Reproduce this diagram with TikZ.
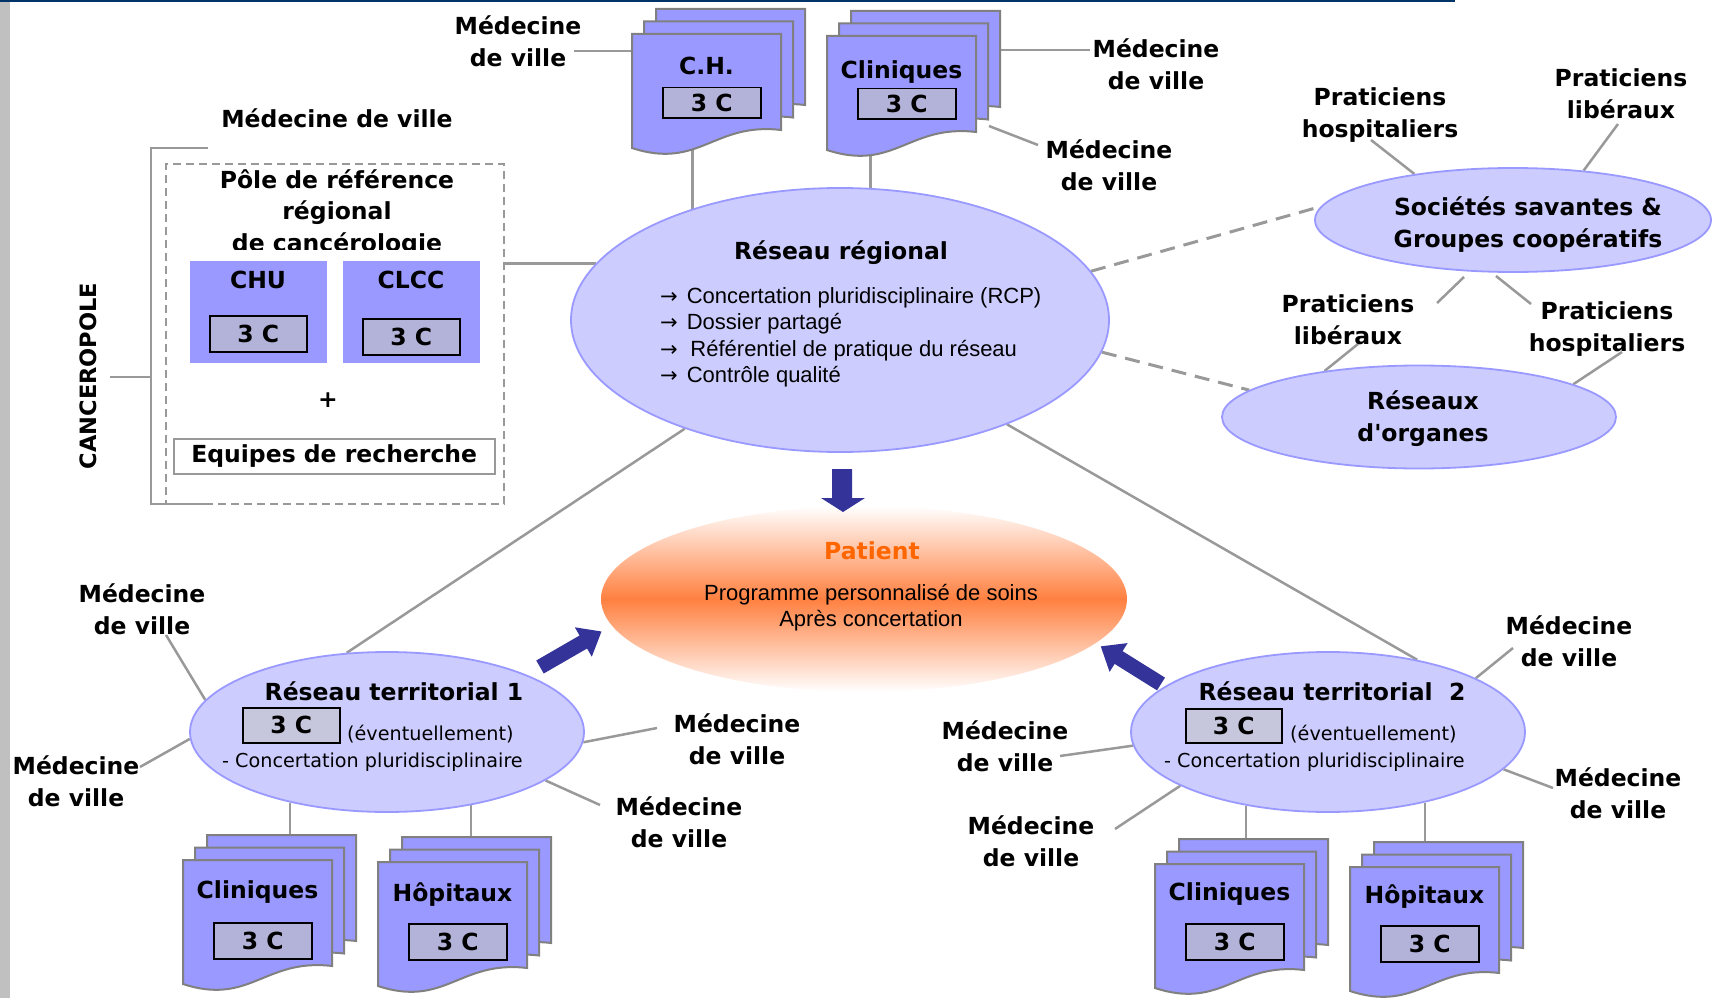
\documentclass[tikz,border=0pt]{standalone}
\usepackage{fontspec}
\setmainfont{DejaVu Sans}
\newfontfamily\arialf{Liberation Sans}
\newfontfamily\djv{DejaVu Sans}
\usetikzlibrary{backgrounds,shapes.geometric,calc}

\definecolor{ellfill}{HTML}{CCCCFF}
\definecolor{elldraw}{HTML}{9999FF}
\definecolor{docfill}{HTML}{9999FF}
\definecolor{docdraw}{HTML}{808080}
\definecolor{tcfill}{HTML}{B3B3D9}
\definecolor{tclight}{HTML}{C6C6DC}
\definecolor{connc}{HTML}{999999}
\definecolor{arrblue}{HTML}{333399}
\definecolor{porange}{HTML}{FF8040}
\definecolor{ptext}{HTML}{FF6600}
\definecolor{topblue}{HTML}{003366}
\definecolor{stripgray}{HTML}{C0C0C0}

\tikzset{
 lab/.style={font=\fontsize{23.5}{32}\selectfont\bfseries, align=center, inner sep=0pt},
 conn/.style={draw=connc, line width=2.5pt},
 dconn/.style={draw=connc, line width=3pt, dash pattern=on 15pt off 9pt},
 ell/.style={ellipse, fill=ellfill, draw=elldraw, line width=1.8pt, inner sep=0pt},
 tcbox/.style={draw=black, line width=1.5pt, fill=tcfill, inner sep=0pt, font=\fontsize{23.5}{28}\selectfont\bfseries},
 body/.style={font=\arialf\fontsize{22}{26.5}\selectfont, inner sep=0pt},
 smalltext/.style={font=\fontsize{19.2}{24}\selectfont, inner sep=0pt},
}

\newcommand\rarr{{\djv\fontsize{21}{26}\selectfont →}\hspace{9pt}}

\newcommand\docshape[4]{%
 \filldraw[fill=docfill, draw=docdraw, line width=2pt]
  (#1,#2) -- (#1+#3,#2) -- (#1+#3,#2+#4-18)
  .. controls (#1+0.55*#3,#2+#4-26) and (#1+0.45*#3,#2+#4+22) .. (#1,#2+#4) -- cycle;}

% name x y h title titledy boxdy boxh
\newcommand\docstack[8]{%
 \docshape{#2+24}{#3-25}{149}{#4}
 \docshape{#2+12}{#3-12.5}{149}{#4}
 \docshape{#2}{#3}{149}{#4}
 \node[lab, anchor=base] at (#2+74.5,#3+#6) {#5};
 \node[tcbox, minimum width=98pt, minimum height=#8pt, anchor=north west] at (#2+30,#3+#7) {3 C};
 \node[inner sep=0pt, minimum width=173pt, minimum height={#4+25}, anchor=south west] (#1) at (#2,#3+#4) {};
}

\begin{document}
\begin{tikzpicture}[x=1pt,y=-1pt]
\useasboundingbox (0,0) rectangle (1717,998);
\fill[topblue] (0,0) rectangle (1455,2.5);
\fill[stripgray] (0,2.5) rectangle (10,998);

% ---- Réseau régional
\node[ell, minimum width=538pt, minimum height=264pt] (R) at (840,320) {};
\node[lab, anchor=base] (Rt) at (841,259) {Réseau régional};
\node[body, anchor=base west] (Rb1) at (660,303) {\rarr Concertation pluridisciplinaire (RCP)};
\node[body, anchor=base west] (Rb2) at (660,329.5) {\rarr Dossier partagé};
\node[body, anchor=base west] (Rb3) at (660,356) {\rarr \,Référentiel de pratique du réseau};
\node[body, anchor=base west] (Rb4) at (660,382.5) {\rarr Contrôle qualité};

% ---- Patient
\node[ellipse, minimum width=526pt, minimum height=186pt, inner sep=0pt,
      top color=white, bottom color=white, middle color=porange] (pat) at (864,599) {};
\node[lab, text=ptext, anchor=base] (patt) at (872,559) {Patient};
\node[body, anchor=base] (pat1) at (871,600) {Programme personnalisé de soins};
\node[body, anchor=base] (pat2) at (871,626) {Après concertation};

% ---- Sociétés / organes
\node[ell, minimum width=396pt, minimum height=104pt] (soc) at (1513,220) {};
\node[lab] (soct) at (1528,224.5) {Sociétés savantes \&\\Groupes coopératifs};
\node[ell, minimum width=394pt, minimum height=103pt] (org) at (1419,417) {};
\node[lab] (orgt) at (1423,418.5) {Réseaux\\d\textquotesingle organes};

% ---- Territorial 1 and 2
\node[ell, minimum width=394pt, minimum height=160pt] (t1) at (387,732) {};
\node[lab, anchor=base] (t1t) at (394,700) {Réseau territorial 1};
\node[tcbox, fill=tclight, minimum width=97pt, minimum height=35pt, anchor=north west] (t1c) at (242,707) {3 C};
\node[smalltext, anchor=base west] (t1e) at (347,740) {(éventuellement)};
\node[smalltext, anchor=base west] (t1p) at (222,767) {- Concertation pluridisciplinaire};

\node[ell, minimum width=394pt, minimum height=160pt] (t2) at (1328,732) {};
\node[lab, anchor=base] (t2t) at (1332,700) {Réseau territorial\ \ 2};
\node[tcbox, fill=tclight, minimum width=96pt, minimum height=34pt, anchor=north west] (t2c) at (1185,708) {3 C};
\node[smalltext, anchor=base west] (t2e) at (1290,740) {(éventuellement)};
\node[smalltext, anchor=base west] (t2p) at (1164,767) {- Concertation pluridisciplinaire};

% ---- Document stacks
\docstack{ch}{632}{34}{114}{C.H.}{41}{53}{30}
\docstack{clt}{827}{36}{114}{Cliniques}{42}{52}{30}
\docstack{d1}{183}{860}{124}{Cliniques}{38}{62}{36}
\docstack{d2}{378}{862}{124}{Hôpitaux}{39}{61}{36}
\docstack{d3}{1155}{864}{124}{Cliniques}{36}{59}{36}
\docstack{d4}{1350}{867}{124}{Hôpitaux}{36}{58}{36}

% ---- Pôle de référence
\node[draw=connc, dash pattern=on 8pt off 5pt, line width=2pt, minimum width=338pt,
      minimum height=340pt, inner sep=0pt, anchor=north west] (pole) at (165,163) {};
\begin{scope}
 \clip (167,165) rectangle (501,249.5);
 \node[lab, anchor=base] (pt1) at (337,188) {Pôle de référence};
 \node[lab, anchor=base] (pt2) at (337,219) {régional};
 \node[lab, anchor=base] (pt3) at (337,251) {de cancérologie};
\end{scope}
\node[fill=docfill, minimum width=137pt, minimum height=102pt, inner sep=0pt, anchor=north west] (chu) at (190,261) {};
\node[lab, anchor=base] (chut) at (258,288) {CHU};
\node[tcbox, minimum width=97pt, minimum height=36pt, anchor=north west] (chu3) at (209,315) {3 C};
\node[fill=docfill, minimum width=137pt, minimum height=102pt, inner sep=0pt, anchor=north west] (clcc) at (343,261) {};
\node[lab, anchor=base] (clcct) at (411,288) {CLCC};
\node[tcbox, minimum width=97pt, minimum height=36pt, anchor=north west] (clcc3) at (362,318) {3 C};
\node[lab] (plus) at (328,400) {+};
\node[lab, draw=connc, line width=1.5pt, minimum width=321pt, minimum height=35pt, anchor=north west] (eq) at (173,438) {Equipes de recherche};

\node[lab, rotate=90, font=\fontsize{22.5}{27}\selectfont\bfseries] (canc) at (88,376) {CANCEROPOLE};

% ---- Labels
\node[lab] (L1) at (337,118) {Médecine de ville};
\node[lab] (L2) at (518,41) {Médecine\\de ville};
\node[lab] (L3) at (1156,64.5) {Médecine\\de ville};
\node[lab] (L4) at (1109,165) {Médecine\\de ville};
\node[lab] (L5) at (1380,115) {Praticiens\\hospitaliers};
\node[lab] (L6) at (1621,94) {Praticiens\\libéraux};
\node[lab] (L7) at (1348,320) {Praticiens\\libéraux};
\node[lab] (L8) at (1607,329) {Praticiens\\hospitaliers};
\node[lab] (L9) at (142,609) {Médecine\\de ville};
\node[lab] (L10) at (76,781) {Médecine\\de ville};
\node[lab] (L11) at (737,739) {Médecine\\de ville};
\node[lab] (L12) at (679,822) {Médecine\\de ville};
\node[lab] (L13) at (1005,746) {Médecine\\de ville};
\node[lab] (L14) at (1031,841) {Médecine\\de ville};
\node[lab] (L15) at (1569,641) {Médecine\\de ville};
\node[lab] (L16) at (1618,793) {Médecine\\de ville};

% ---- Free ends of connectors
\coordinate (L2c) at (574,51);
\coordinate (L3c) at (1090,50);
\coordinate (L4a) at (1038,145);
\coordinate (L4b) at (989,126);
\coordinate (cancR) at (110,377);
\coordinate (brk) at (151,377);
\coordinate (L5c) at (1371,140);
\coordinate (L6c) at (1618,124);
\coordinate (s1a) at (1464,277);
\coordinate (s1b) at (1437,303);
\coordinate (s2a) at (1496,276);
\coordinate (s2b) at (1531,304);
\coordinate (L7c) at (1358,344);
\coordinate (L8c) at (1622,352);
\coordinate (L9c) at (166,635);
\coordinate (L10c) at (140,767);
\coordinate (L11c) at (657,728);
\coordinate (L12c) at (600,805);
\coordinate (L13c) at (1060,756);
\coordinate (L14c) at (1115,829);
\coordinate (L15c) at (1513,648);
\coordinate (L16c) at (1553,788);

% ---- Block arrows
\fill[arrblue] (832,469) -- (852,469) -- (852,498) -- (865,498) -- (843,512) -- (821,498) -- (832,498) -- cycle;
\fill[arrblue, shift={(540,667)}, rotate=30] (0,-7.5) -- (50,-7.5) -- (50,-17) -- (71,0) -- (50,17) -- (50,7.5) -- (0,7.5) -- cycle;
\fill[arrblue, shift={(1161,684)}, rotate=148] (0,-7.5) -- (50,-7.5) -- (50,-17) -- (71,0) -- (50,17) -- (50,7.5) -- (0,7.5) -- cycle;

% ---- Connectors
\begin{scope}[on background layer]
 \draw[conn] (L2c) -- (L2c -| ch.center);
 \draw[conn] (R.143.1 |- ch.south) -- (R.143.1);
 \draw[conn] (R.77.1 |- clt.south) -- (R.77.1);
 \draw[conn] (L3c) -- (L3c -| clt.center);
 \draw[conn] (L4a) -- (L4b);
 \draw[conn] (pole.east |- R.167.3) -- (R.167.3);
 \draw[conn] (cancR) -- (brk);
 \draw[conn] (208,148) -- (151,148) -- (151,504) -- (205,504);
 \draw[dconn] (R.11.5) -- (soc.176);
 \draw[dconn] (R.353.6) -- (org.171.7);
 \draw[conn] (R.215.6) -- (t1.117.4);
 \draw[conn] (R.328.3) -- (t2.39.2);
 \draw[conn] (L5c) -- (soc.155.1);
 \draw[conn] (L6c) -- (soc.35.9);
 \draw[conn] (s1a) -- (s1b);
 \draw[conn] (s2a) -- (s2b);
 \draw[conn] (L7c) -- (org.154.4);
 \draw[conn] (L8c) -- (org.12.9);
 \draw[conn] (L9c) -- (t1.170.9);
 \draw[conn] (L10c) -- (t1.182.9);
 \draw[conn] (L11c) -- (t1.357.4);
 \draw[conn] (L12c) -- (t1.343.9);
 \draw[conn] (t1.216.4) -- (t1.216.4 |- d1.north);
 \draw[conn] (t1.319.7) -- (t1.319.7 |- d2.north);
 \draw[conn] (L13c) -- (t2.184.2);
 \draw[conn] (L14c) -- (t2.200.7);
 \draw[conn] (L15c) -- (t2.20.6);
 \draw[conn] (L16c) -- (t2.348);
 \draw[conn] (t2.222.4) -- (t2.222.4 |- d3.north);
 \draw[conn] (t2.324.9) -- (t2.324.9 |- d4.north);
\end{scope}
\end{tikzpicture}
\end{document}
